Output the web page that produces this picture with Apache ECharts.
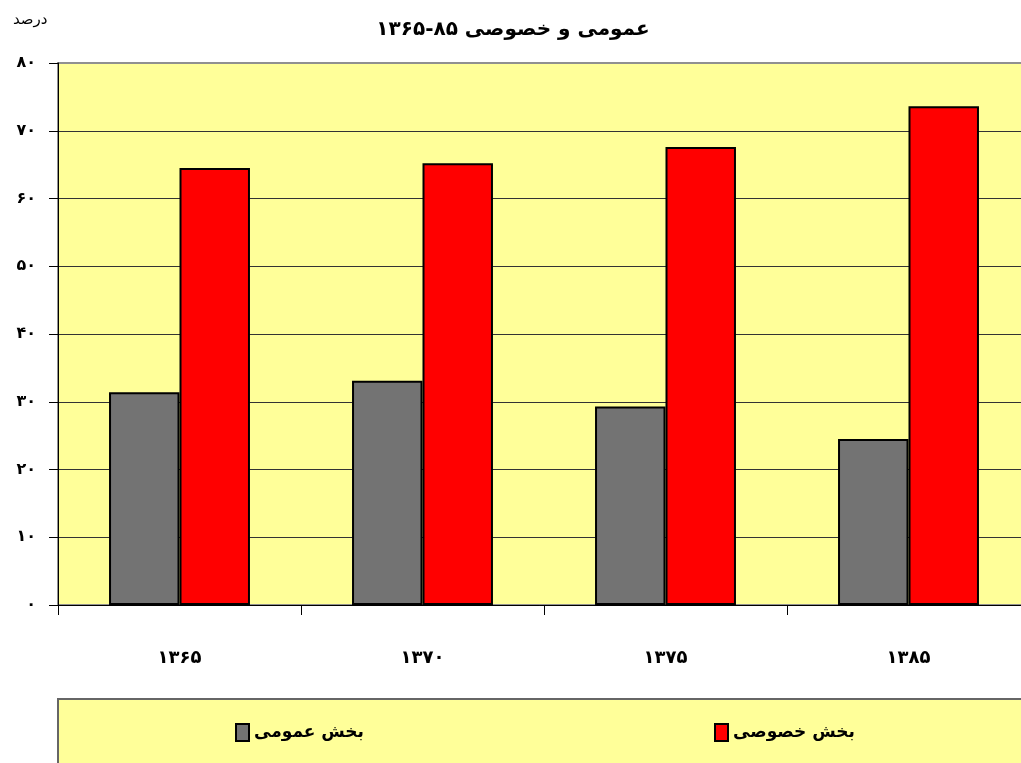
<!DOCTYPE html>
<html>
<head>
<meta charset="utf-8">
<script src="https://cdn.jsdelivr.net/npm/echarts@6/dist/echarts.min.js"></script>
<style>
html,body{margin:0;padding:0;background:#fff;}
#main{width:1021px;height:763px;}
</style>
</head>
<body>
<div id="main"></div>
<script>
const categories = ['۱۳۶۵', '۱۳۷۰', '۱۳۷۵', '۱۳۸۵'];
const publicSector = [31.4, 33.1, 29.3, 24.5];
const privateSector = [64.5, 65.2, 67.6, 73.6];
const yTickLabels = ['۰', '۱۰', '۲۰', '۳۰', '۴۰', '۵۰', '۶۰', '۷۰', '۸۰'];
const seriesNames = ['بخش عمومی', 'بخش خصوصی'];
const titleText = 'عمومی و خصوصی ۸۵-۱۳۶۵';
const unitText = 'درصد';

const FONT = 'DejaVu Sans';
const chart = echarts.init(document.getElementById('main'), null, {renderer: 'canvas'});

chart.setOption({
  backgroundColor: '#ffffff',
  animation: false,
  title: [
    {text: titleText, left: 508, top: 15, textAlign: 'center',
     textStyle: {fontFamily: FONT, fontSize: 20, fontWeight: 'bold', color: '#000'}},
    {text: unitText, left: 8, top: 8,
     textStyle: {fontFamily: FONT, fontSize: 15, fontWeight: 'normal', color: '#000'}}
  ],
  graphic: [
    {type: 'rect', left: 57, top: 698, z: -1,
     shape: {width: 975, height: 70},
     style: {fill: '#FFFF99', stroke: '#666666', lineWidth: 2}}
  ],
  legend: [
    {data: [seriesNames[0]], left: 230, top: 718, icon: 'rect', itemWidth: 13, itemHeight: 17, itemGap: 8,
     textStyle: {fontFamily: FONT, fontSize: 17, fontWeight: 'bold', color: '#000'}},
    {data: [seriesNames[1]], left: 709, top: 718, icon: 'rect', itemWidth: 13, itemHeight: 17, itemGap: 8,
     textStyle: {fontFamily: FONT, fontSize: 17, fontWeight: 'bold', color: '#000'}}
  ],
  grid: {
    left: 58, top: 63, width: 972, height: 542,
    outerBoundsMode: 'none',
    show: true, backgroundColor: '#FFFF99', borderColor: '#909090', borderWidth: 2
  },
  xAxis: {
    type: 'category',
    data: categories,
    axisLine: {lineStyle: {color: '#000', width: 1}},
    axisTick: {show: true, alignWithLabel: false, length: 10, lineStyle: {color: '#000'}},
    axisLabel: {margin: 44, fontFamily: FONT, fontSize: 18, fontWeight: 'bold', color: '#000'},
    splitLine: {show: false}
  },
  yAxis: {
    type: 'value',
    min: 0, max: 80, interval: 10,
    axisLine: {show: true, lineStyle: {color: '#000', width: 1}},
    axisTick: {show: true, length: 9, lineStyle: {color: '#000'}},
    axisLabel: {
      margin: 22, fontFamily: FONT, fontSize: 16, fontWeight: 'bold', color: '#000',
      formatter: function (v) { return yTickLabels[Math.round(v / 10)]; }
    },
    splitLine: {show: true, lineStyle: {
      color: ['#333333', '#333333', '#333333', '#333333', '#333333', '#333333', '#333333', '#333333', '#909090'],
      width: 1}}
  },
  series: [
    {name: seriesNames[0], type: 'bar', data: publicSector,
     barGap: '0%', barCategoryGap: '42%',
     itemStyle: {color: '#737373', borderColor: '#000', borderWidth: 2}},
    {name: seriesNames[1], type: 'bar', data: privateSector,
     barGap: '0%', barCategoryGap: '42%',
     itemStyle: {color: '#FF0000', borderColor: '#000', borderWidth: 2}}
  ]
});
</script>
</body>
</html>
